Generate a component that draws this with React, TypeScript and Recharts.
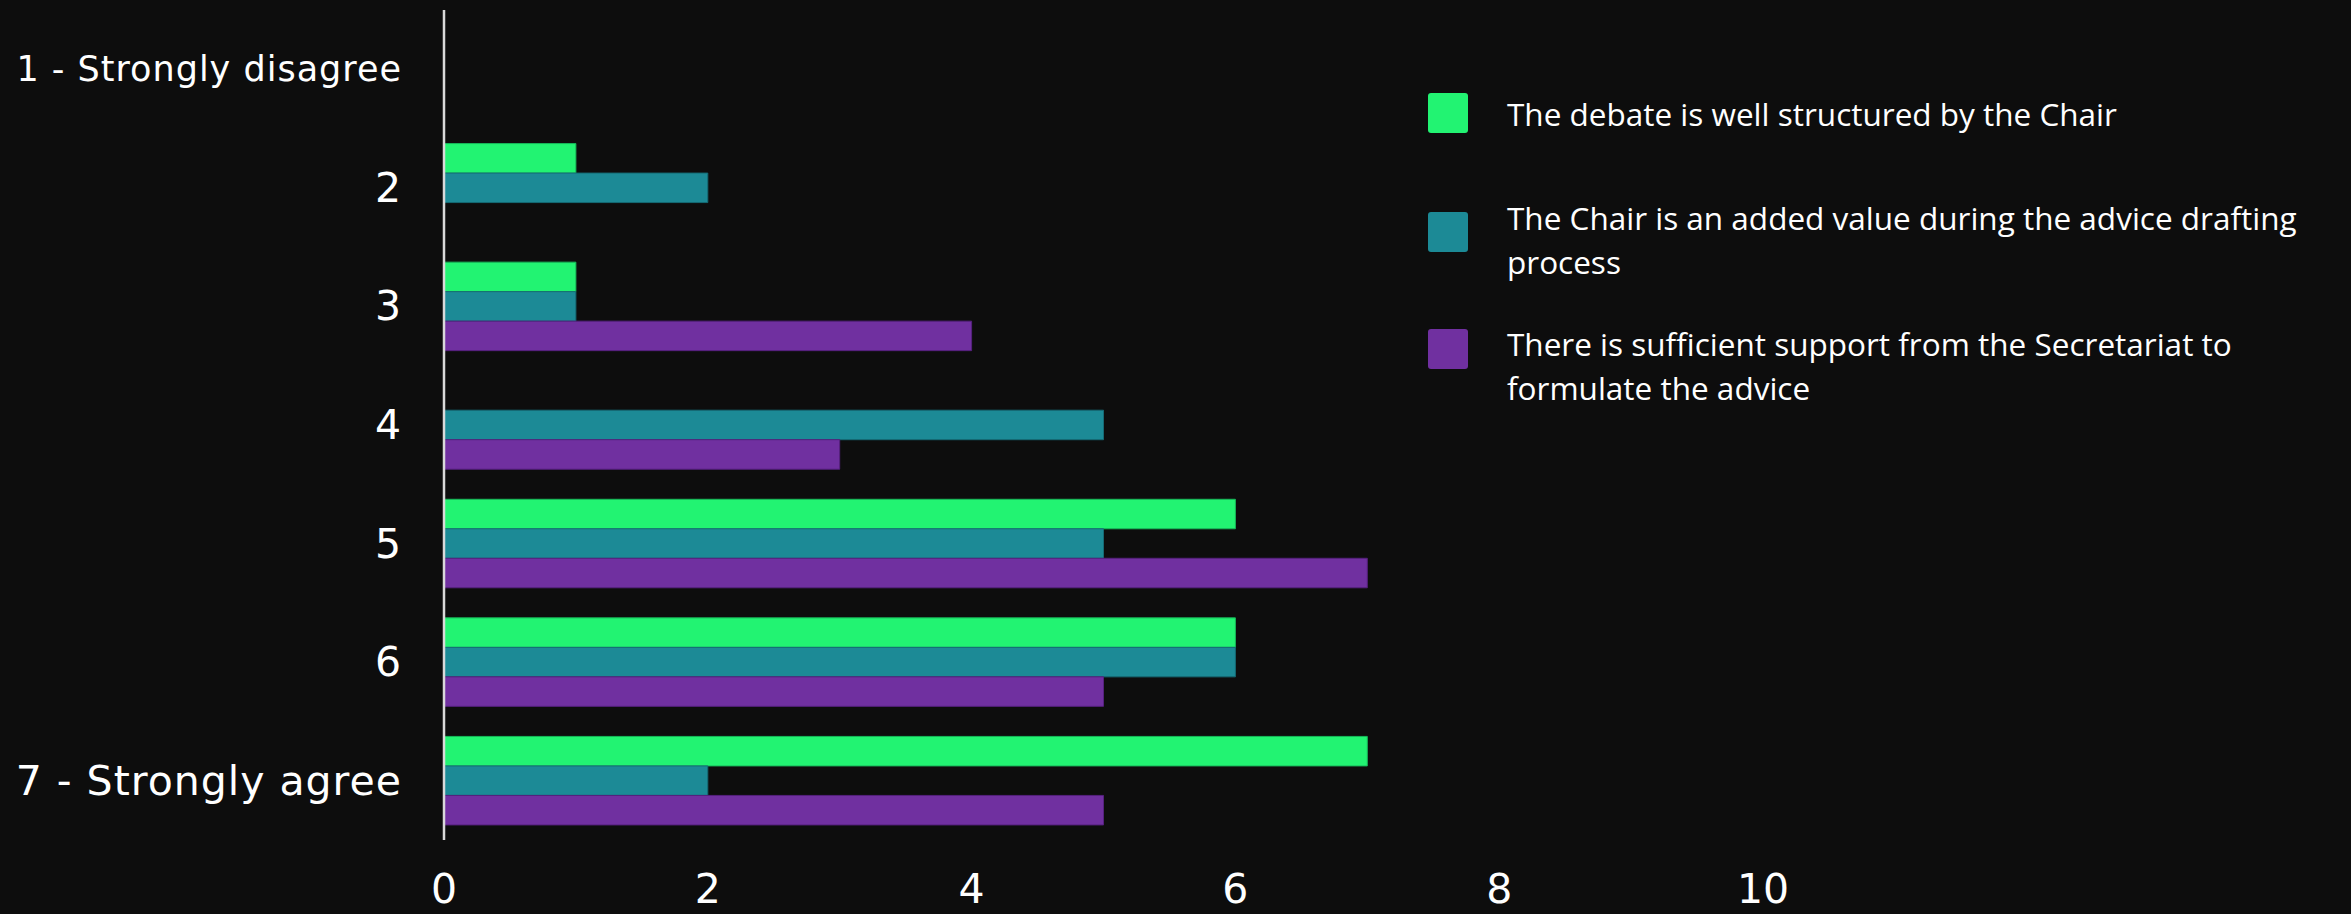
import { BarChart, Bar, XAxis, YAxis, Legend } from 'recharts'

const categories = ['1 - Strongly disagree', '2', '3', '4', '5', '6', '7 - Strongly agree']
const wellStructured = [0, 1, 1, 0, 6, 6, 7]
const addedValue = [0, 2, 1, 5, 5, 6, 2]
const secretariatSupport = [0, 0, 4, 3, 7, 5, 5]
const xTicks = [0, 2, 4, 6, 8, 10]

const seriesNames = [
  'The debate is well structured by the Chair',
  'The Chair is an added value during the advice drafting process',
  'There is sufficient support from the Secretariat to formulate the advice',
]

const data = categories.map((cat, i) => ({
  cat,
  s1: wellStructured[i],
  s2: addedValue[i],
  s3: secretariatSupport[i],
}))

const BG = '#0d0d0d'
const GREEN = '#22f372'
const TEAL = '#1c8a96'
const PURPLE = '#7030a0'

// manual placement like the slide: text top / marker top per item
const legendTextTop = [92, 196, 322]
const legendMarkTop = [93, 212, 329]

function CategoryTick(props: any) {
  const { x, y, payload } = props
  const small = payload.index === 0
  return (
    <text
      x={x}
      y={y}
      textAnchor="end"
      dominantBaseline="central"
      fill="#ffffff"
      fontFamily="'DejaVu Sans', sans-serif"
      fontSize={small ? 35 : 41}
      letterSpacing={1}
    >
      {payload.value}
    </text>
  )
}

function LegendBox(props: any) {
  const { payload } = props
  return (
    <div style={{ position: 'relative', width: 920, height: 420 }}>
      {(payload || []).map((entry: any, i: number) => (
        <div key={entry.value}>
          <div
            style={{
              position: 'absolute',
              left: 0,
              top: legendMarkTop[i],
              width: 40,
              height: 40,
              borderRadius: 3,
              background: entry.color,
            }}
          />
          <div
            style={{
              position: 'absolute',
              left: 79,
              top: legendTextTop[i],
              width: 800,
              fontFamily: "'Open Sans', sans-serif",
              fontSize: 31.5,
              lineHeight: '44px',
              color: '#ffffff',
            }}
          >
            {entry.value}
          </div>
        </div>
      ))}
    </div>
  )
}

export default function App() {
  return (
    <div style={{ background: BG, width: 2351, height: 914 }}>
      <style>{`body{margin:0;background:${BG};overflow:hidden}`}</style>
      <BarChart
        width={2351}
        height={914}
        data={data}
        layout="vertical"
        margin={{ top: 10, right: 588, bottom: 0, left: 0 }}
        barGap={0}
        barSize={29.5}
      >
        <XAxis
          type="number"
          domain={[0, 10]}
          ticks={xTicks}
          axisLine={false}
          tickLine={false}
          tickSize={0}
          tickMargin={34}
          height={74}
          tick={{ fill: '#ffffff', fontSize: 41, fontFamily: "'DejaVu Sans', sans-serif" }}
        />
        <YAxis
          type="category"
          dataKey="cat"
          width={444}
          axisLine={{ stroke: '#d9d9d9', strokeWidth: 2.5 }}
          tickLine={false}
          tickSize={0}
          tickMargin={42}
          tick={<CategoryTick />}
        />
        <Legend
          layout="horizontal"
          align="center"
          verticalAlign="middle"
          itemSorter="dataKey"
          wrapperStyle={{ left: 1428, top: 0, width: 920, height: 420 }}
          content={<LegendBox />}
        />
        <Bar dataKey="s1" name={seriesNames[0]} fill={GREEN} stroke="#17b85a" strokeWidth={1} isAnimationActive={false} />
        <Bar dataKey="s2" name={seriesNames[1]} fill={TEAL} stroke="#156a74" strokeWidth={1} isAnimationActive={false} />
        <Bar dataKey="s3" name={seriesNames[2]} fill={PURPLE} stroke="#55207e" strokeWidth={1} isAnimationActive={false} />
      </BarChart>
    </div>
  )
}
